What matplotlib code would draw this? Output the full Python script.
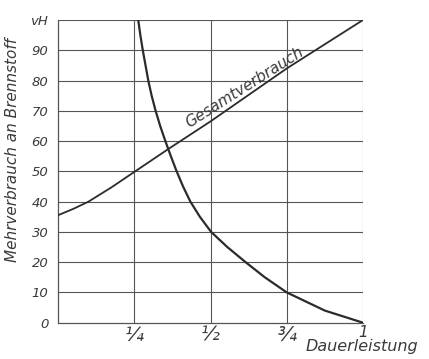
import matplotlib
matplotlib.use("Agg")
import matplotlib.pyplot as plt

# Load fraction (of continuous rating) and fuel values in percent (vH)
gesamt_x = [0.0, 0.05, 0.1, 0.175, 0.25, 0.362, 0.5, 0.75, 1.0]
gesamt_y = [35.5, 37.6, 40, 44.7, 49.8, 57.4, 66.5, 84, 100]

mehr_x = [0.263, 0.270, 0.278, 0.287, 0.296, 0.307, 0.320, 0.335, 0.352, 0.370,
          0.389, 0.410, 0.434, 0.465, 0.502, 0.555, 0.615, 0.678, 0.750, 0.875, 1.0]
mehr_y = [100, 95, 90, 85, 80, 75, 70, 65, 60, 55,
          50, 45, 40, 35, 30, 25, 20, 15, 10, 4, 0]

y_ticks = [0, 10, 20, 30, 40, 50, 60, 70, 80, 90, 100]
y_ticklabels = ["0", "10", "20", "30", "40", "50", "60", "70", "80", "90", "vH"]
x_ticks = [0.25, 0.5, 0.75, 1.0]
x_ticklabels = ["¼", "½", "¾", "1"]

ink = "#2b2b2b"
grid_ink = "#555555"
font = dict(family="DejaVu Sans", style="italic", color="#3a3a3a")

fig = plt.figure(figsize=(4.29, 3.59), dpi=100)
ax = fig.add_axes([0.1352, 0.1011, 0.7110, 0.8432])

ax.set_xlim(0, 1)
ax.set_ylim(0, 100)

# grid
for yv in y_ticks[1:]:
    ax.axhline(yv, color=grid_ink, lw=0.8, zorder=1)
for xv in x_ticks:
    ax.axvline(xv, color=grid_ink, lw=0.8, zorder=1)

ax.plot(gesamt_x, gesamt_y, color=ink, lw=1.3, zorder=3, solid_joinstyle="round")
ax.plot(mehr_x, mehr_y, color=ink, lw=1.6, zorder=3, solid_joinstyle="round")

ax.text(0.625, 75.5, "Gesamtverbrauch", rotation=32.5, rotation_mode="anchor",
        ha="center", va="bottom", fontsize=11, **font)

for side in ["top", "right"]:
    ax.spines[side].set_visible(False)
ax.spines["left"].set_color(grid_ink)
ax.spines["bottom"].set_color(grid_ink)
ax.spines["left"].set_linewidth(0.9)
ax.spines["bottom"].set_linewidth(0.9)

ax.set_yticks(y_ticks)
ax.set_yticklabels(y_ticklabels, fontsize=9.5, fontstyle="italic", color="#3a3a3a")
ax.set_xticks(x_ticks)
ax.set_xticklabels(x_ticklabels, fontsize=14, fontstyle="italic", color="#3a3a3a")
for lbl in ax.get_xticklabels():
    if lbl.get_text() == "1":
        lbl.set_fontsize(11)
ax.tick_params(axis="both", length=0)
ax.tick_params(axis="x", pad=2)
ax.tick_params(axis="y", pad=7)

ax.set_ylabel("Mehrverbrauch an Brennstoff", fontsize=11, labelpad=10, **font)
ax.yaxis.set_label_coords(-0.125, 0.57)

ax.text(0.81, -0.055, "Dauerleistung", transform=ax.transAxes, ha="left", va="top",
        fontsize=11.5, **font)

fig.savefig("out.png", dpi=100)
